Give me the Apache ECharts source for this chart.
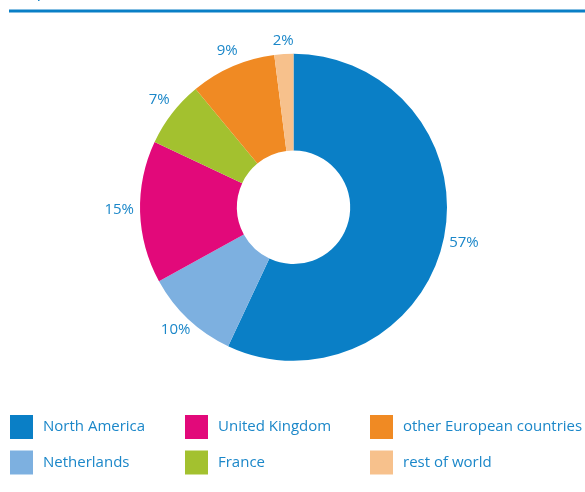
<!DOCTYPE html>
<html>
<head>
<meta charset="utf-8">
<script src="https://cdn.jsdelivr.net/npm/echarts@6/dist/echarts.min.js"></script>
<style>
  html, body { margin: 0; padding: 0; background: #fff; }
  #chart { width: 585px; height: 492px; }
</style>
</head>
<body>
<div id="chart"></div>
<script>
// Share of revenue by region
const regions = ['North America', 'Netherlands', 'United Kingdom', 'France', 'other European countries', 'rest of world'];
const shares = [57, 10, 15, 7, 9, 2];
const colors = ['#0a7fc6', '#7db0e0', '#e2097a', '#a3c12f', '#f08a23', '#f7c18c'];

// Legend columns (two entries each)
const legendColumns = [
  ['North America', 'Netherlands'],
  ['United Kingdom', 'France'],
  ['other European countries', 'rest of world']
];
const legendLeft = [10, 185, 370];

const textBlue = '#1b87c9';
const fontFamily = '"Open Sans", "Noto Sans", sans-serif';
const center = [293.5, 207.3];
const innerRadius = 56.7;
const outerRadius = 153.5;
const labelGap = 6;
const labelLift = 3;
const pieData = regions.map((name, i) => ({ name: name, value: shares[i] }));

const chart = echarts.init(document.getElementById('chart'));

chart.setOption({
  animation: false,
  color: colors,
  graphic: [
    {
      type: 'text',
      left: 11,
      top: -17,
      style: { text: '(in percent)', fill: textBlue, font: '18px ' + fontFamily }
    },
    {
      type: 'rect',
      shape: { x: 9, y: 9.5, width: 580, height: 3 },
      style: { fill: '#0a7fc6' }
    }
  ],
  legend: legendColumns.map((col, i) => ({
    data: col,
    orient: 'vertical',
    left: legendLeft[i],
    top: 415,
    padding: 0,
    icon: 'rect',
    itemWidth: 23,
    itemHeight: 24,
    itemGap: 11.5,
    selectedMode: false,
    textStyle: {
      color: textBlue,
      fontSize: 15,
      fontFamily: fontFamily,
      padding: [4, 0, 0, 5]
    }
  })),
  series: [
    {
      // the donut itself
      type: 'pie',
      center: center,
      radius: [innerRadius, outerRadius],
      startAngle: 90,
      clockwise: true,
      data: pieData,
      label: { show: false },
      labelLine: { show: false },
      emphasis: { disabled: true }
    },
    {
      // transparent ring carrying the percentage labels; each label box is
      // pushed outward along its slice direction so it sits a fixed gap
      // away from the donut's outer edge
      type: 'pie',
      center: center,
      radius: [168, 178],
      startAngle: 90,
      clockwise: true,
      silent: true,
      legendHoverLink: false,
      data: pieData,
      itemStyle: { color: 'rgba(0,0,0,0)' },
      label: {
        show: true,
        position: 'inside',
        rotate: 0,
        formatter: p => p.value + '%',
        color: textBlue,
        fontSize: 15,
        fontFamily: fontFamily
      },
      labelLayout: function (params) {
        const r = params.labelRect;
        const lx = r.x + r.width / 2 - center[0];
        const ly = r.y + r.height / 2 - center[1];
        const len = Math.sqrt(lx * lx + ly * ly) || 1;
        const dx = lx / len, dy = ly / len;
        const dist = outerRadius + labelGap +
          (r.width / 2) * Math.abs(dx) + (r.height / 2 - 4) * Math.abs(dy);
        return {
          x: center[0] + dx * dist,
          y: center[1] + dy * dist - labelLift,
          align: 'center',
          verticalAlign: 'middle'
        };
      },
      labelLine: { show: false },
      emphasis: { disabled: true }
    }
  ]
});
</script>
</body>
</html>
